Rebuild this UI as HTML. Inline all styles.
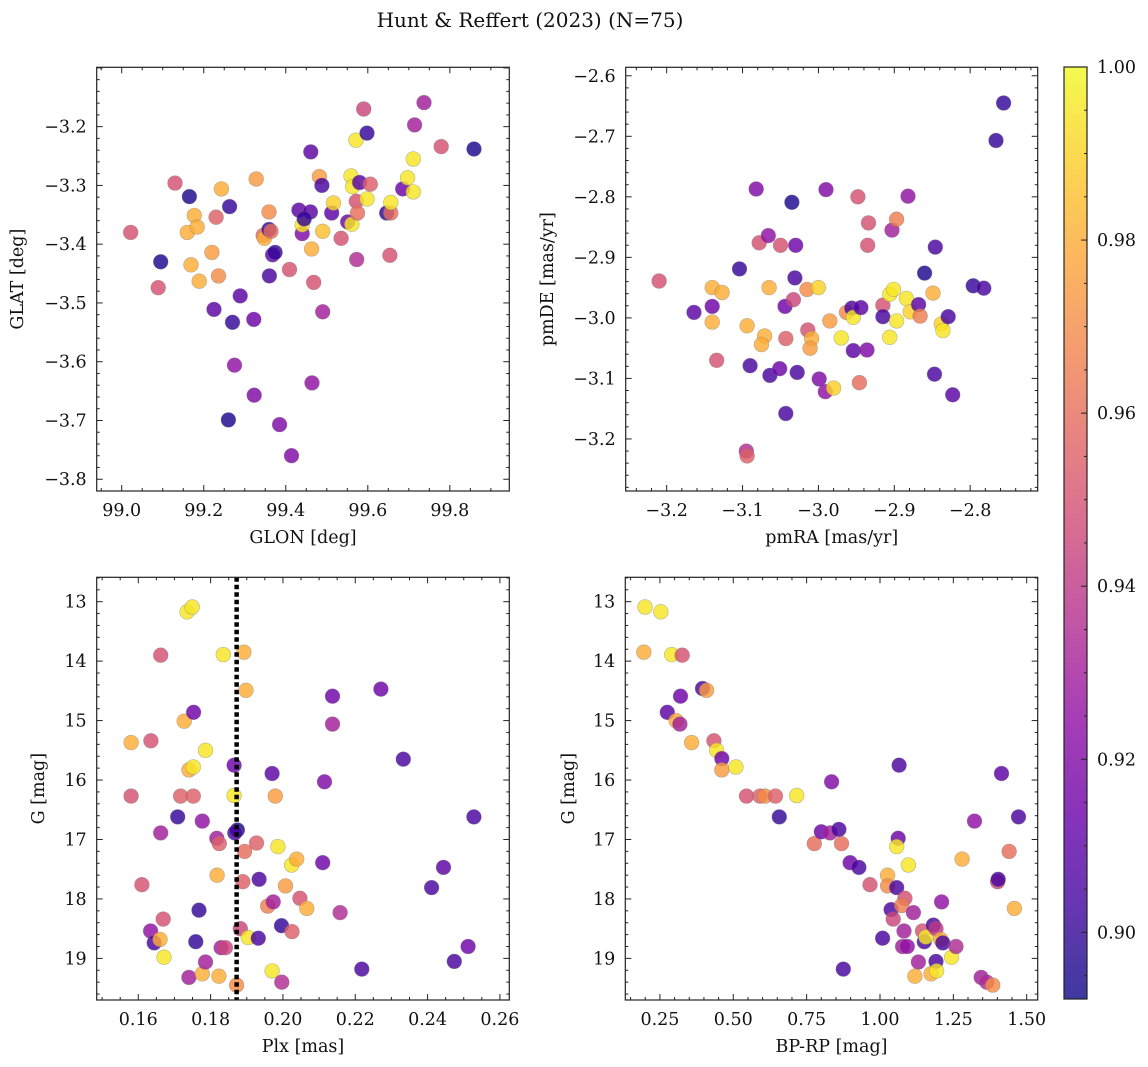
<!DOCTYPE html>
<html><head><meta charset="utf-8"><style>
html,body{margin:0;padding:0;background:#fff;}
svg{display:block;font-family:"DejaVu Serif","Liberation Serif",serif;}
</style></head><body>
<svg id="fig" width="1148" height="1067" viewBox="0 0 1148 1067" xmlns="http://www.w3.org/2000/svg">
<text x="530" y="27" font-size="20" text-anchor="middle" fill="#111">Hunt &amp; Reffert (2023) (N=75)</text>
</svg>
<script>
// ---------- Panel 1: GLON vs GLAT ----------
const glon1 = [99.022,99.095,99.089,99.13,99.165,99.16,99.177,99.184,99.169,99.189,99.23,99.22,99.236,99.243,99.263,99.225,99.27,99.289,99.275,99.26,99.322,99.323,99.328,99.359,99.345,99.348,99.359,99.364,99.36,99.368,99.374,99.385,99.409,99.414,99.432,99.44,99.44,99.461,99.46,99.445,99.463,99.464,99.468,99.482,99.488,99.49,99.49,99.512,99.516,99.535,99.551,99.559,99.561,99.563,99.571,99.572,99.575,99.58,99.573,99.59,99.598,99.598,99.606,99.646,99.656,99.656,99.654,99.685,99.697,99.711,99.711,99.714,99.737,99.779,99.859];
const glat1 = [-3.380,-3.430,-3.474,-3.296,-3.319,-3.38,-3.351,-3.371,-3.435,-3.463,-3.354,-3.414,-3.454,-3.306,-3.336,-3.511,-3.533,-3.488,-3.606,-3.699,-3.528,-3.657,-3.289,-3.345,-3.385,-3.39,-3.375,-3.378,-3.454,-3.418,-3.414,-3.707,-3.443,-3.76,-3.342,-3.382,-3.367,-3.243,-3.345,-3.357,-3.408,-3.636,-3.465,-3.285,-3.3,-3.378,-3.515,-3.347,-3.33,-3.39,-3.362,-3.284,-3.366,-3.302,-3.223,-3.327,-3.347,-3.295,-3.426,-3.17,-3.211,-3.323,-3.298,-3.347,-3.347,-3.329,-3.419,-3.306,-3.287,-3.255,-3.311,-3.197,-3.159,-3.234,-3.238];
const prob1 = [.95,.895,.95,.95,.895,.98,.98,.98,.98,.98,.955,.975,.97,.98,.9,.91,.9,.91,.925,.895,.915,.92,.975,.97,.96,.98,.9,.96,.905,.91,.9,.92,.95,.92,.91,.92,.995,.91,.91,.9,.98,.925,.95,.975,.905,.985,.93,.91,.99,.95,.915,.995,.995,.995,.995,.95,.96,.91,.935,.945,.9,.995,.955,.9,.96,.995,.95,.915,.995,.995,.995,.93,.93,.95,.895];

// ---------- Panel 2: pmRA vs pmDE ----------
const pmra2 = [-3.21,-3.164,-3.140,-3.127,-3.14,-3.14,-3.134,-3.104,-3.094,-3.09,-3.095,-3.094,-3.082,-3.078,-3.066,-3.065,-3.071,-3.075,-3.064,-3.05,-3.044,-3.051,-3.043,-3.043,-3.035,-3.03,-3.031,-3.033,-3.028,-3.015,-3.014,-3.009,-3.011,-3.0,-2.999,-2.991,-2.99,-2.985,-2.980,-2.97,-2.963,-2.956,-2.954,-2.954,-2.944,-2.948,-2.946,-2.936,-2.934,-2.935,-2.915,-2.915,-2.906,-2.906,-2.901,-2.903,-2.897,-2.897,-2.884,-2.879,-2.882,-2.868,-2.866,-2.86,-2.849,-2.846,-2.847,-2.838,-2.836,-2.829,-2.823,-2.796,-2.782,-2.766,-2.756];
const pmde2 = [-2.939,-2.991,-2.950,-2.958,-2.981,-3.007,-3.07,-2.919,-3.013,-3.079,-3.22,-3.228,-2.787,-2.876,-2.864,-2.95,-3.03,-3.044,-3.095,-2.88,-2.981,-3.084,-3.034,-3.158,-2.809,-2.88,-2.934,-2.97,-3.09,-2.953,-3.02,-3.034,-3.05,-2.95,-3.101,-3.122,-2.788,-3.005,-3.116,-3.033,-2.991,-2.984,-2.999,-3.054,-2.983,-2.8,-3.107,-3.053,-2.843,-2.88,-2.979,-2.998,-3.032,-2.961,-2.953,-2.855,-2.837,-3.005,-2.968,-2.99,-2.799,-2.978,-2.997,-2.926,-2.959,-2.883,-3.093,-3.01,-3.021,-2.998,-3.127,-2.947,-2.951,-2.707,-2.645];
const prob2 = [.95,.91,.98,.98,.915,.98,.95,.9,.98,.905,.935,.955,.92,.95,.925,.98,.98,.98,.905,.95,.915,.915,.955,.905,.895,.915,.905,.945,.905,.97,.95,.98,.975,.99,.92,.925,.92,.975,.99,.995,.97,.905,.995,.91,.91,.95,.96,.92,.95,.95,.95,.905,.995,.995,.995,.93,.965,.995,.995,.99,.925,.91,.965,.895,.98,.905,.905,.99,.995,.905,.91,.9,.905,.9,.9];

// ---------- Panel 3: Plx vs G ----------
const plx3 = [0.158,0.158,0.161,0.1635,0.1634,0.1644,0.166,0.1662,0.1662,0.1669,0.1671,0.1709,0.1717,0.1727,0.1735,0.1749,0.174,0.1752,0.1752,0.1753,0.174,0.1768,0.1759,0.1777,0.1777,0.1786,0.1786,0.1818,0.1817,0.1824,0.1823,0.1829,0.1841,0.1835,0.1865,0.1865,0.1874,0.1867,0.1872,0.1892,0.1898,0.1894,0.1889,0.1882,0.1904,0.1927,0.1934,0.1932,0.197,0.1958,0.1973,0.1979,0.1986,0.197,0.1996,0.1997,0.2007,0.2025,0.2024,0.2038,0.2047,0.2066,0.211,0.2115,0.2137,0.2137,0.2158,0.2218,0.2271,0.2333,0.2411,0.2444,0.2474,0.2512,0.2528];
const gmag3 = [15.37,16.27,17.76,15.34,18.54,18.74,18.68,13.90,16.89,18.34,18.98,16.62,16.27,15.01,13.17,13.09,15.83,15.78,16.27,14.86,19.32,18.19,18.72,16.69,19.26,15.50,19.06,17.60,16.98,17.07,19.30,18.82,18.82,13.89,15.75,16.26,16.84,16.89,19.45,13.85,14.49,17.20,17.71,18.50,18.65,17.06,17.67,18.66,15.89,18.12,18.05,16.27,17.12,19.21,18.45,19.40,17.78,18.55,17.43,17.33,17.99,18.16,17.39,16.03,14.59,15.06,18.23,19.18,14.47,15.65,17.81,17.47,19.05,18.80,16.62];
const prob3 = [.98,.95,.95,.95,.925,.905,.98,.95,.93,.95,.995,.9,.955,.98,.995,.995,.98,.995,.955,.915,.93,.9,.9,.925,.98,.995,.93,.98,.93,.955,.98,.93,.945,.995,.915,.995,.895,.905,.97,.98,.98,.96,.955,.945,.995,.955,.905,.905,.91,.965,.93,.975,.995,.995,.9,.935,.975,.955,.995,.98,.95,.98,.915,.92,.915,.93,.935,.905,.915,.905,.905,.91,.905,.915,.905];
const plxRef = [0.1872];

// ---------- Panel 4: BP-RP vs G ----------
const bprp4 = [0.199,0.253,0.195,0.290,0.326,0.320,0.395,0.409,0.275,0.305,0.318,0.358,0.434,0.443,0.461,0.461,0.509,0.545,0.591,0.608,0.644,0.716,0.657,0.776,0.8,0.83,0.86,0.869,0.835,0.875,0.898,0.928,0.966,1.009,1.026,1.026,1.057,1.038,1.045,1.065,1.062,1.057,1.097,1.085,1.074,1.082,1.077,1.093,1.114,1.131,1.119,1.145,1.151,1.156,1.182,1.191,1.174,1.191,1.193,1.207,1.214,1.21,1.244,1.259,1.28,1.322,1.345,1.364,1.384,1.401,1.403,1.414,1.44,1.458,1.472];
const gmag4 = [13.09,13.17,13.85,13.89,13.90,14.59,14.46,14.49,14.86,15.00,15.06,15.37,15.34,15.50,15.64,15.83,15.78,16.27,16.27,16.27,16.27,16.26,16.62,17.07,16.87,16.89,16.83,17.07,16.03,19.18,17.39,17.47,17.76,18.66,17.60,17.78,17.81,18.18,18.34,15.75,16.98,17.12,17.43,17.99,18.11,18.54,18.80,18.80,18.23,19.06,19.30,18.54,18.72,18.64,18.44,18.50,19.26,19.05,19.21,18.68,18.74,18.05,18.98,18.80,17.33,16.69,19.32,19.40,19.45,17.71,17.67,15.89,17.20,18.16,16.62];
const prob4 = [.995,.995,.98,.995,.95,.915,.905,.975,.91,.98,.93,.98,.95,.995,.915,.975,.995,.95,.955,.97,.955,.995,.9,.96,.915,.93,.905,.96,.92,.905,.915,.905,.95,.905,.98,.97,.905,.905,.945,.905,.915,.995,.995,.95,.965,.93,.93,.925,.93,.93,.98,.95,.905,.995,.905,.94,.98,.905,.995,.98,.905,.925,.995,.935,.98,.925,.93,.935,.97,.945,.905,.91,.96,.98,.905];

// ---------- Colorbar ----------
const cbarTicks = [0.90,0.92,0.94,0.96,0.98,1.00];
const cbarMin = 0.8923, cbarMax = 1.0;

const NS = "http://www.w3.org/2000/svg";
const svg = document.getElementById('fig');
function mk(tag, attrs, parent){ const e=document.createElementNS(NS,tag); for(const k in attrs) e.setAttribute(k,attrs[k]); (parent||svg).appendChild(e); return e; }

const stops = ["#0d0887","#41049d","#6a00a8","#8f0da4","#b12a90","#cc4778","#e16462","#f2844b","#fca636","#fcce25","#f0f921"];
function hex(h){return [parseInt(h.substr(1,2),16),parseInt(h.substr(3,2),16),parseInt(h.substr(5,2),16)];}
function plasma(t){ t=Math.max(0,Math.min(1,t)); const f=t*10; const i=Math.min(9,Math.floor(f)); const u=f-i; const a=hex(stops[i]), b=hex(stops[i+1]); return `rgb(${a.map((v,k)=>Math.round(v+(b[k]-v)*u)).join(',')})`; }
function cmap(v){ return plasma((v-cbarMin)/(cbarMax-cbarMin)); }

function fmt(v,d){ const s=Math.abs(v).toFixed(d); return (v<0?"\u2212":"")+s; }

const TF = 17.5, LF = 17.5;

function panel(p){
  const g = mk('g',{});
  
  
  const sx = v => p.L + (v-p.x0)/(p.x1-p.x0)*(p.R-p.L);
  const sy = v => p.yinv ? p.T + (v-p.y0)/(p.y1-p.y0)*(p.B-p.T) : p.B - (v-p.y0)/(p.y1-p.y0)*(p.B-p.T);
  const clip = mk('clipPath',{id:'c'+p.name},g); mk('rect',{x:p.L,y:p.T,width:p.R-p.L,height:p.B-p.T},clip);
  const pg = mk('g',{'clip-path':`url(#c${p.name})`},g);
  
  
  for(let i=0;i<p.xs.length;i++){
    const c = mk('circle',{cx:sx(p.xs[i]).toFixed(1),cy:sy(p.ys[i]).toFixed(1),r:7.4,fill:cmap(p.cs[i]),'fill-opacity':0.82,stroke:'#777','stroke-opacity':0.5,'stroke-width':0.6},pg);
    
    
  }
  if(p.vline){ for(const v of p.vline){ const l=mk('line',{x1:sx(v),x2:sx(v),y1:p.T,y2:p.B,stroke:'#000','stroke-width':4.5,'stroke-dasharray':'4.5 3'},pg);
    
     } }
  mk('rect',{x:p.L,y:p.T,width:p.R-p.L,height:p.B-p.T,fill:'none',stroke:'#222','stroke-width':1.2},g);
  const tk = mk('g',{stroke:'#222','stroke-width':1},g);
  const eps=1e-9;
  for(let v=Math.ceil((p.x0)/p.xmin-eps)*p.xmin; v<=p.x1+eps; v+=p.xmin){
    const X=sx(v); const major=Math.abs(v/p.xmaj-Math.round(v/p.xmaj))<1e-6; const len=major?6:3;
    mk('line',{x1:X,x2:X,y1:p.B,y2:p.B-len},tk); mk('line',{x1:X,x2:X,y1:p.T,y2:p.T+len},tk);
  }
  const ylo=Math.min(p.y0,p.y1), yhi=Math.max(p.y0,p.y1);
  for(let v=Math.ceil(ylo/p.ymin-eps)*p.ymin; v<=yhi+eps; v+=p.ymin){
    const Y=sy(v); const major=Math.abs(v/p.ymaj-Math.round(v/p.ymaj))<1e-6; const len=major?6:3;
    mk('line',{x1:p.L,x2:p.L+len,y1:Y,y2:Y},tk); mk('line',{x1:p.R,x2:p.R-len,y1:Y,y2:Y},tk);
  }
  for(const v of p.xt){ const t=mk('text',{x:sx(v),y:p.B+25,'font-size':TF,'text-anchor':'middle',fill:'#111'},g); t.textContent=fmt(v,p.xd);
      }
  for(const v of p.yt){ const t=mk('text',{x:p.L-10,y:sy(v)+6,'font-size':TF,'text-anchor':'end',fill:'#111'},g); t.textContent=fmt(v,p.yd);
      }
  const xl=mk('text',{x:(p.L+p.R)/2,y:p.B+52,'font-size':LF,'text-anchor':'middle',fill:'#111'},g); xl.textContent=p.xlab;
   
  const cy=(p.T+p.B)/2; const yl=mk('text',{x:p.ylx,y:cy,'font-size':LF,'text-anchor':'middle',fill:'#111',transform:`rotate(-90 ${p.ylx} ${cy})`},g); yl.textContent=p.ylab;
   
}

panel({name:'glon-glat-panel',L:96.7,R:509.3,T:67.3,B:491,x0:98.939,x1:99.945,y0:-3.820,y1:-3.099,
  xs:glon1,ys:glat1,cs:prob1,xmaj:0.2,xmin:0.05,ymaj:0.1,ymin:0.02,xt:[99.0,99.2,99.4,99.6,99.8],yt:[-3.2,-3.3,-3.4,-3.5,-3.6,-3.7,-3.8],xd:1,yd:1,xlab:'GLON [deg]',ylab:'GLAT [deg]',ylx:23});
panel({name:'pm-panel',L:625.7,R:1037.7,T:67.3,B:491,x0:-3.254,x1:-2.711,y0:-3.286,y1:-2.586,
  xs:pmra2,ys:pmde2,cs:prob2,xmaj:0.1,xmin:0.02,ymaj:0.1,ymin:0.02,xt:[-3.2,-3.1,-3.0,-2.9,-2.8],yt:[-2.6,-2.7,-2.8,-2.9,-3.0,-3.1,-3.2],xd:1,yd:1,xlab:'pmRA [mas/yr]',ylab:'pmDE [mas/yr]',ylx:553});
panel({name:'plx-g-panel',L:96.7,R:509.3,T:577.3,B:1000,x0:0.1485,x1:0.2626,y0:12.59,y1:19.70,yinv:true,
  xs:plx3,ys:gmag3,cs:prob3,vline:plxRef,xmaj:0.02,xmin:0.005,ymaj:1,ymin:0.2,xt:[0.16,0.18,0.20,0.22,0.24,0.26],yt:[13,14,15,16,17,18,19],xd:2,yd:0,xlab:'Plx [mas]',ylab:'G [mag]',ylx:44});
panel({name:'cmd-panel',L:625.3,R:1037.7,T:577.3,B:1000,x0:0.132,x1:1.5375,y0:12.59,y1:19.70,yinv:true,
  xs:bprp4,ys:gmag4,cs:prob4,xmaj:0.25,xmin:0.05,ymaj:1,ymin:0.2,xt:[0.25,0.5,0.75,1.0,1.25,1.5],yt:[13,14,15,16,17,18,19],xd:2,yd:0,xlab:'BP-RP [mag]',ylab:'G [mag]',ylx:574});

(function(){
  const L=1064,R=1087,T=67,B=999;
  const g=mk('g',{});  
  const defs=mk('defs',{},g); const lg=mk('linearGradient',{id:'cbg',x1:0,y1:1,x2:0,y2:0},defs);
  stops.forEach((s,i)=>mk('stop',{offset:i/10,'stop-color':s},lg));
  mk('rect',{x:L,y:T,width:R-L,height:B-T,fill:'url(#cbg)','fill-opacity':0.8},g);
  mk('rect',{x:L,y:T,width:R-L,height:B-T,fill:'none',stroke:'#222','stroke-width':1.2},g);
  const sy=v=>B-(v-cbarMin)/(cbarMax-cbarMin)*(B-T);
  for(let v=0.895; v<=1.0001; v+=0.005){ const Y=sy(v); const maj=Math.abs(v*50-Math.round(v*50))<1e-6;
    mk('line',{x1:R,x2:R-(maj?6:3),y1:Y,y2:Y,stroke:'#222','stroke-width':1},g); }
  for(const v of cbarTicks){ const t=mk('text',{x:R+10,y:sy(v)+6,'font-size':TF,fill:'#111'},g); t.textContent=v.toFixed(2);
      }
})();
</script>
</body></html>
